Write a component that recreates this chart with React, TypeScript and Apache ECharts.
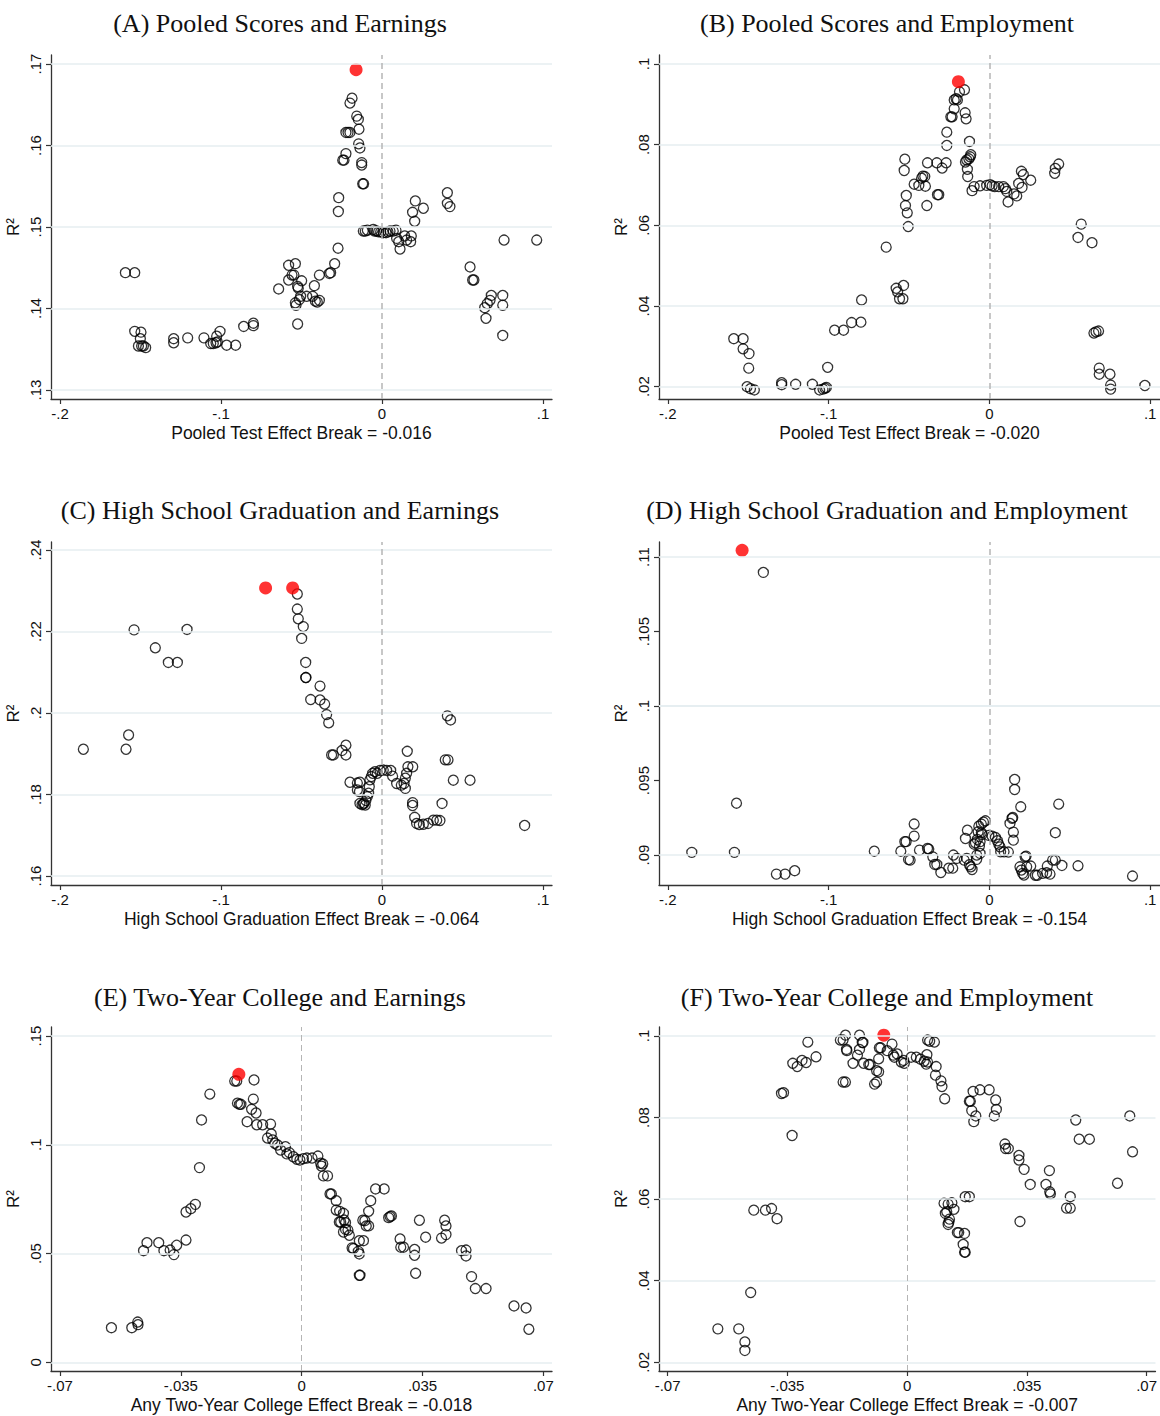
import React, { useEffect, useRef } from "react";
import * as echarts from "echarts";

// ---------- tick labels ----------
const xTicksWide = ["-.2", "-.1", "0", ".1"];
const xTicksCollege = ["-.07", "-.035", "0", ".035", ".07"];
const yTicksA = [".13", ".14", ".15", ".16", ".17"];
const yTicksB = [".02", ".04", ".06", ".08", ".1"];
const yTicksC = [".16", ".18", ".2", ".22", ".24"];
const yTicksD = [".09", ".095", ".1", ".105", ".11"];
const yTicksE = ["0", ".05", ".1", ".15"];
const yTicksF = [".02", ".04", ".06", ".08", ".1"];

// ---------- titles ----------
const titles = [
  "(A) Pooled Scores and Earnings",
  "(B) Pooled Scores and Employment",
  "(C) High School Graduation and Earnings",
  "(D) High School Graduation and Employment",
  "(E) Two-Year College and Earnings",
  "(F) Two-Year College and Employment",
];
const xNames = [
  "Pooled Test Effect Break = -0.016",
  "Pooled Test Effect Break = -0.020",
  "High School Graduation Effect Break = -0.064",
  "High School Graduation Effect Break = -0.154",
  "Any Two-Year College Effect Break = -0.018",
  "Any Two-Year College Effect Break = -0.007",
];

// ---------- data (break value, R²) ----------
const ptsA = [
  [-0.1594, 0.1444], [-0.1536, 0.1444], [-0.1536, 0.1372], [-0.1497, 0.1371], [-0.1501, 0.1363],
  [-0.1513, 0.1354], [-0.1493, 0.1354], [-0.1482, 0.1354], [-0.1468, 0.1352],
  [-0.1294, 0.1363], [-0.1294, 0.1358], [-0.1207, 0.1364], [-0.1106, 0.1364], [-0.1064, 0.1357],
  [-0.1048, 0.1357], [-0.1031, 0.1358], [-0.1023, 0.1359], [-0.1027, 0.1366], [-0.1006, 0.1372],
  [-0.0965, 0.1355], [-0.0909, 0.1355], [-0.0859, 0.1378], [-0.0799, 0.1382], [-0.0799, 0.1379],
  [-0.0642, 0.1424], [-0.058, 0.1453], [-0.0538, 0.1455], [-0.058, 0.1435], [-0.0559, 0.1441],
  [-0.0547, 0.1441], [-0.0524, 0.1427], [-0.0538, 0.1407], [-0.0534, 0.1404], [-0.0524, 0.1381],
  [-0.0186, 0.1658], [-0.0199, 0.1652], [-0.0157, 0.1636], [-0.0147, 0.1632], [-0.0143, 0.162],
  [-0.0224, 0.1616], [-0.0211, 0.1616], [-0.0199, 0.1616], [-0.0145, 0.1602], [-0.0137, 0.1597],
  [-0.0224, 0.159], [-0.0244, 0.1582], [-0.0236, 0.1582], [-0.0126, 0.1579], [-0.0126, 0.1576],
  [-0.012, 0.1553], [-0.0114, 0.1553], [-0.0269, 0.1536], [-0.0271, 0.1519], [-0.0273, 0.1474],
  [-0.0294, 0.1455], [-0.0327, 0.1443], [-0.0319, 0.1444], [-0.0389, 0.1441], [-0.042, 0.1428],
  [-0.0431, 0.1415], [-0.0414, 0.1409], [-0.0402, 0.1408], [-0.0389, 0.141], [-0.0468, 0.1415],
  [-0.0505, 0.1415], [-0.0513, 0.1411], [-0.0499, 0.1434], [-0.052, 0.1425],
  [-0.0116, 0.1495], [-0.0104, 0.1495], [-0.0091, 0.1496], [-0.0054, 0.1497], [-0.0046, 0.1495],
  [-0.0033, 0.1495], [-0.0021, 0.1494], [-0.0008, 0.1494], [0.0008, 0.1493], [0.0025, 0.1493],
  [0.0037, 0.1494], [0.005, 0.1495], [0.007, 0.1495], [0.0087, 0.1496], [0.0091, 0.1486],
  [0.0104, 0.1482], [0.0112, 0.1473], [0.0141, 0.1489], [0.0153, 0.1484], [0.0178, 0.1482],
  [0.0182, 0.1489], [0.0203, 0.1507], [0.019, 0.1518], [0.0207, 0.1532], [0.0257, 0.1523],
  [0.0406, 0.1542], [0.0406, 0.1529], [0.0422, 0.1525], [0.0547, 0.1451], [0.0563, 0.1435],
  [0.0571, 0.1435], [0.0679, 0.1416], [0.0671, 0.141], [0.0654, 0.1406], [0.0638, 0.1401],
  [0.0646, 0.1388], [0.075, 0.1416], [0.075, 0.1404], [0.075, 0.1367], [0.0758, 0.1484],
  [0.0961, 0.1484],
];
const redA = [[-0.0161, 0.1693]];

const ptsB = [
  [-0.159, 0.0319], [-0.1532, 0.0319], [-0.1532, 0.0294], [-0.1495, 0.0282], [-0.1497, 0.0246],
  [-0.1507, 0.02], [-0.1486, 0.0195], [-0.1462, 0.0192], [-0.1292, 0.021], [-0.1292, 0.0205],
  [-0.1205, 0.0206], [-0.1101, 0.0206], [-0.1056, 0.0192], [-0.1035, 0.0194], [-0.1023, 0.0196],
  [-0.1014, 0.0198], [-0.1006, 0.0248], [-0.0963, 0.034], [-0.0907, 0.034], [-0.0857, 0.0359],
  [-0.0799, 0.036], [-0.0795, 0.0415], [-0.0642, 0.0546], [-0.0534, 0.0451], [-0.058, 0.0444],
  [-0.0571, 0.0435], [-0.0559, 0.0418], [-0.0538, 0.0418], [-0.0526, 0.0764], [-0.053, 0.0736],
  [-0.0517, 0.0674], [-0.0522, 0.0649], [-0.0511, 0.0631], [-0.0505, 0.0597],
  [-0.0155, 0.0936], [-0.0186, 0.0931], [-0.0207, 0.0914], [-0.0219, 0.0911], [-0.0199, 0.0911],
  [-0.0219, 0.0889], [-0.0232, 0.0869], [-0.024, 0.0869], [-0.0151, 0.0879], [-0.0145, 0.0864],
  [-0.0265, 0.0831], [-0.0265, 0.0798], [-0.0124, 0.0808], [-0.0116, 0.0775], [-0.012, 0.077],
  [-0.0128, 0.0765], [-0.0141, 0.0762], [-0.0149, 0.0757], [-0.0137, 0.0739], [-0.0135, 0.0721],
  [-0.0385, 0.0755], [-0.0327, 0.0755], [-0.0269, 0.0755], [-0.0294, 0.0742], [-0.0414, 0.0722],
  [-0.0402, 0.0721], [-0.0422, 0.0717], [-0.0439, 0.0699], [-0.0468, 0.0702], [-0.0398, 0.0697],
  [-0.0389, 0.0649], [-0.0323, 0.0676], [-0.0315, 0.0676],
  [-0.0108, 0.0686], [-0.0095, 0.0696], [-0.0058, 0.0698], [-0.0017, 0.0699], [0.0004, 0.0701],
  [0.0017, 0.0698], [0.0033, 0.0696], [0.0058, 0.0696], [0.0087, 0.0696], [0.0099, 0.0691],
  [0.0108, 0.0684], [0.0116, 0.0658], [0.0153, 0.0678], [0.017, 0.0673], [0.0182, 0.0704],
  [0.0203, 0.0694], [0.0199, 0.0734], [0.0211, 0.0726], [0.0257, 0.0712], [0.0406, 0.0729],
  [0.041, 0.0741], [0.0431, 0.0752], [0.0571, 0.0603], [0.0551, 0.057], [0.0638, 0.0557],
  [0.065, 0.0333], [0.0679, 0.0338], [0.0663, 0.0336], [0.0683, 0.0246], [0.0683, 0.0231],
  [0.075, 0.0231], [0.0754, 0.0204], [0.0754, 0.0194], [0.0967, 0.0203],
];
const redB = [[-0.0193, 0.0956]];

const ptsC = [
  [-0.1855, 0.1911], [-0.159, 0.1911], [-0.1574, 0.1946], [-0.154, 0.2204], [-0.1408, 0.216],
  [-0.1327, 0.2124], [-0.1271, 0.2124], [-0.1211, 0.2205],
  [-0.0526, 0.2292], [-0.0526, 0.2255], [-0.052, 0.2231], [-0.0489, 0.2212], [-0.0499, 0.2183],
  [-0.0474, 0.2124], [-0.0474, 0.2087], [-0.0472, 0.2087], [-0.0385, 0.2066], [-0.0443, 0.2033],
  [-0.0385, 0.2032], [-0.0356, 0.2022], [-0.0344, 0.1996], [-0.0331, 0.1976], [-0.0313, 0.1897],
  [-0.0302, 0.1897], [-0.0248, 0.1908], [-0.0224, 0.1921], [-0.0224, 0.1897], [-0.0199, 0.183],
  [-0.0153, 0.1828], [-0.0137, 0.183], [-0.0153, 0.1811], [-0.014, 0.1807], [-0.0137, 0.1778],
  [-0.0124, 0.1775], [-0.0116, 0.1777], [-0.0112, 0.1779], [-0.0104, 0.1774], [-0.01, 0.1785],
  [-0.0091, 0.1795], [-0.0083, 0.1803], [-0.0079, 0.1819], [-0.0075, 0.1836], [-0.0066, 0.1844],
  [-0.0058, 0.1852], [-0.0043, 0.1856], [-0.0029, 0.1852], [-0.0012, 0.1859], [0.0008, 0.186],
  [0.0029, 0.1859], [0.0054, 0.1859], [0.0066, 0.1845], [0.0091, 0.1827], [0.012, 0.1823],
  [0.0137, 0.1827], [0.0145, 0.184], [0.0153, 0.1852], [0.0145, 0.1815], [0.0161, 0.1868],
  [0.0191, 0.1868], [0.0157, 0.1906], [0.019, 0.178], [0.019, 0.1773], [0.0203, 0.1744],
  [0.0215, 0.1729], [0.0232, 0.1726], [0.0257, 0.1727], [0.0286, 0.1729], [0.0319, 0.1737],
  [0.034, 0.1737], [0.036, 0.1736], [0.0373, 0.1778], [0.0393, 0.1885], [0.041, 0.1885],
  [0.0406, 0.1993], [0.0426, 0.1983], [0.0443, 0.1835], [0.0547, 0.1835], [0.0886, 0.1724],
];
const redC = [[-0.0723, 0.2307], [-0.0555, 0.2307]];

const ptsD = [
  [-0.1406, 0.10897], [-0.1573, 0.09348], [-0.1851, 0.09018], [-0.1586, 0.09018], [-0.1325, 0.08872],
  [-0.1271, 0.08872], [-0.1211, 0.08895], [-0.0716, 0.09026], [-0.0551, 0.09026], [-0.0526, 0.0909],
  [-0.0518, 0.0909], [-0.0503, 0.0897], [-0.0493, 0.08966], [-0.0468, 0.09208], [-0.0468, 0.09127],
  [-0.0435, 0.09033], [-0.0385, 0.09044], [-0.0377, 0.0904], [-0.0352, 0.08988], [-0.034, 0.08937],
  [-0.0327, 0.08937], [-0.0302, 0.08883], [-0.0253, 0.08912], [-0.0228, 0.08912], [-0.0224, 0.09],
  [-0.0203, 0.08977], [-0.0157, 0.08966], [-0.0141, 0.08977], [-0.0124, 0.08935], [-0.0116, 0.08921],
  [-0.0108, 0.08903], [-0.0149, 0.09111], [-0.0137, 0.09167], [-0.0095, 0.09073], [-0.0087, 0.09082],
  [-0.0075, 0.09105], [-0.007, 0.09156], [-0.0066, 0.09194], [-0.0058, 0.09011], [-0.0079, 0.09],
  [-0.0079, 0.08971], [-0.0062, 0.0906], [-0.0058, 0.0909], [-0.005, 0.09208], [-0.0037, 0.09221],
  [-0.0025, 0.0923], [-0.005, 0.0915], [-0.0046, 0.09138], [-0.0004, 0.09132], [0.0017, 0.09127],
  [0.0037, 0.09118], [0.005, 0.09096], [0.0058, 0.09073], [0.0066, 0.09055], [0.007, 0.09022],
  [0.0091, 0.09022], [0.0118, 0.0902], [0.0128, 0.09212], [0.0141, 0.09246], [0.0145, 0.09252],
  [0.0149, 0.09154], [0.0149, 0.091], [0.0157, 0.09507], [0.0157, 0.0944], [0.0195, 0.09324],
  [0.0222, 0.08988], [0.0228, 0.08993], [0.019, 0.08921], [0.0199, 0.08899], [0.0207, 0.08877],
  [0.0215, 0.08866], [0.0232, 0.08921], [0.0257, 0.08926], [0.0286, 0.08864], [0.0298, 0.08864],
  [0.0331, 0.08877], [0.0356, 0.08881], [0.0377, 0.08872], [0.036, 0.08926], [0.0393, 0.08966],
  [0.041, 0.08966], [0.0451, 0.0893], [0.041, 0.0915], [0.0431, 0.09342], [0.0551, 0.08928],
  [0.089, 0.08859],
];
const redD = [[-0.1538, 0.11045]];

const ptsE = [
  [-0.0551, 0.0159], [-0.0492, 0.0159], [-0.0475, 0.0185], [-0.0474, 0.0173], [-0.0458, 0.0513],
  [-0.0448, 0.055], [-0.0414, 0.055], [-0.0399, 0.0513], [-0.0381, 0.0516], [-0.037, 0.0495],
  [-0.0362, 0.0538], [-0.0335, 0.0562], [-0.0335, 0.0691], [-0.0321, 0.0706], [-0.0308, 0.0726],
  [-0.0296, 0.0895], [-0.029, 0.1114], [-0.0266, 0.1233], [-0.0194, 0.1293], [-0.0188, 0.1293],
  [-0.0138, 0.1298], [-0.0186, 0.1191], [-0.018, 0.1186], [-0.0176, 0.1186], [-0.014, 0.121],
  [-0.0145, 0.1163], [-0.0132, 0.1146], [-0.0158, 0.1106], [-0.013, 0.1092], [-0.0113, 0.1092],
  [-0.009, 0.1095], [-0.0099, 0.1031], [-0.0088, 0.105], [-0.0084, 0.1022], [-0.0078, 0.1007],
  [-0.007, 0.0999], [-0.0061, 0.0976], [-0.0047, 0.0991], [-0.0043, 0.0958], [-0.0036, 0.0964],
  [-0.0024, 0.0945], [-0.0014, 0.0933], [-0.0005, 0.093], [0.0005, 0.0936], [0.0015, 0.0939],
  [0.003, 0.0939], [0.0047, 0.0948], [0.0055, 0.0915], [0.0057, 0.0902], [0.0061, 0.0912],
  [0.0063, 0.0857], [0.0075, 0.0857], [0.0082, 0.0774], [0.0086, 0.0774], [0.01, 0.0743],
  [0.01, 0.07], [0.011, 0.0694], [0.0121, 0.0685], [0.0109, 0.0645], [0.0113, 0.0645],
  [0.0123, 0.0654], [0.0127, 0.0642], [0.0121, 0.0599], [0.0127, 0.0611], [0.0134, 0.0608],
  [0.0138, 0.0584], [0.0146, 0.0526], [0.015, 0.0523], [0.0164, 0.051], [0.0167, 0.0498],
  [0.0167, 0.04], [0.0169, 0.04], [0.0167, 0.0559], [0.0179, 0.0559], [0.0177, 0.0653],
  [0.0183, 0.0651], [0.0187, 0.0627], [0.0194, 0.0627], [0.0194, 0.0694], [0.02, 0.0743],
  [0.0214, 0.0797], [0.0239, 0.0797], [0.0252, 0.0665], [0.0256, 0.067], [0.026, 0.0673],
  [0.0285, 0.0567], [0.0287, 0.0529], [0.0295, 0.0529], [0.0327, 0.0519], [0.0327, 0.0492],
  [0.033, 0.0409], [0.0341, 0.0653], [0.0359, 0.0575], [0.0405, 0.0571], [0.0414, 0.0653],
  [0.0418, 0.0627], [0.0418, 0.0587], [0.0463, 0.0513], [0.0476, 0.0516], [0.0476, 0.0489],
  [0.0492, 0.0394], [0.0503, 0.0339], [0.0534, 0.0339], [0.0615, 0.0259], [0.065, 0.025],
  [0.0658, 0.0152],
];
const redE = [[-0.0182, 0.1324]];

const ptsF = [
  [-0.0553, 0.0282], [-0.0492, 0.0282], [-0.0474, 0.025], [-0.0474, 0.0229], [-0.0457, 0.0371],
  [-0.0448, 0.0573], [-0.0414, 0.0573], [-0.0396, 0.0577], [-0.038, 0.0552], [-0.0336, 0.0756],
  [-0.0367, 0.0859], [-0.0361, 0.0861], [-0.0334, 0.0933], [-0.0321, 0.0925], [-0.0307, 0.094],
  [-0.0295, 0.0935], [-0.029, 0.0985], [-0.0266, 0.0949], [-0.0195, 0.099], [-0.0187, 0.099],
  [-0.018, 0.1002], [-0.0177, 0.0967], [-0.0176, 0.0964], [-0.0187, 0.0887], [-0.018, 0.0887],
  [-0.0158, 0.0933], [-0.0145, 0.0953], [-0.0139, 0.1002], [-0.0139, 0.0967], [-0.0131, 0.0984],
  [-0.0129, 0.0984], [-0.0127, 0.0933], [-0.0112, 0.093], [-0.0108, 0.093], [-0.0095, 0.0882],
  [-0.0089, 0.0887], [-0.0089, 0.0915], [-0.0083, 0.0912], [-0.0083, 0.0944], [-0.0081, 0.0971],
  [-0.0077, 0.0971], [-0.0058, 0.0964], [-0.0044, 0.098], [-0.004, 0.0953], [-0.0037, 0.0948],
  [-0.0029, 0.0956], [-0.0017, 0.0936], [-0.001, 0.094], [-0.0008, 0.0933], [0.0012, 0.0948],
  [0.0027, 0.0948], [0.0039, 0.0943], [0.005, 0.0938], [0.0058, 0.0954], [0.0056, 0.0931],
  [0.006, 0.0936], [0.006, 0.099], [0.0066, 0.0987], [0.008, 0.0985], [0.0085, 0.0925],
  [0.0083, 0.0904], [0.0099, 0.089], [0.0102, 0.0876], [0.011, 0.0846], [0.0193, 0.0864],
  [0.0213, 0.0868], [0.024, 0.0868], [0.0182, 0.084], [0.0185, 0.084], [0.0189, 0.0817],
  [0.0201, 0.0804], [0.0195, 0.079], [0.0259, 0.0843], [0.0261, 0.082], [0.0255, 0.0804],
  [0.0286, 0.0735], [0.0288, 0.0724], [0.0296, 0.0724], [0.0327, 0.0707], [0.0327, 0.0696],
  [0.0342, 0.0673], [0.036, 0.0636], [0.033, 0.0545], [0.0406, 0.0636], [0.0416, 0.067],
  [0.0417, 0.0618], [0.0419, 0.0613], [0.0466, 0.0578], [0.0477, 0.0578], [0.0477, 0.0606],
  [0.0493, 0.0794], [0.0503, 0.0747], [0.0533, 0.0747], [0.0615, 0.0639], [0.0651, 0.0804],
  [0.0659, 0.0716], [0.0108, 0.059], [0.012, 0.0588], [0.0131, 0.0591], [0.0137, 0.0575],
  [0.0116, 0.0569], [0.0124, 0.0551], [0.0122, 0.0543], [0.012, 0.0538], [0.0147, 0.0518],
  [0.0151, 0.0518], [0.0168, 0.0516], [0.0164, 0.0489], [0.0168, 0.047], [0.017, 0.047],
  [0.017, 0.0606], [0.0182, 0.0606], [0.0112, 0.0565],
];
const redF = [[-0.0068, 0.1002]];

// ---------- layout ----------
const panels = [
  { left: 51, top: 55, w: 501, h: 344, xr: [-0.2056, 0.1056], yr: [0.1289, 0.1711], xt: xTicksWide, yt: yTicksA, pts: ptsA, red: redA, cx: 280, ty: 23, dashW: 1.5 },
  { left: 659, top: 55, w: 501, h: 344, xr: [-0.2055, 0.1061], yr: [0.01695, 0.10223], xt: xTicksWide, yt: yTicksB, pts: ptsB, red: redB, cx: 887, ty: 23, dashW: 1.5 },
  { left: 51, top: 542, w: 501, h: 343, xr: [-0.2056, 0.1056], yr: [0.15779, 0.24196], xt: xTicksWide, yt: yTicksC, pts: ptsC, red: redC, cx: 280, ty: 510, dashW: 1.5 },
  { left: 659, top: 542, w: 501, h: 343, xr: [-0.2055, 0.1061], yr: [0.08799, 0.11101], xt: xTicksWide, yt: yTicksD, pts: ptsD, red: redD, cx: 887, ty: 510, dashW: 1.5 },
  { left: 51, top: 1027, w: 501, h: 344, xr: [-0.0726, 0.0725], yr: [-0.004, 0.15414], xt: xTicksCollege, yt: yTicksE, pts: ptsE, red: redE, cx: 280, ty: 997, dashW: 1 },
  { left: 659, top: 1027, w: 501, h: 344, xr: [-0.0725, 0.0726], yr: [0.01787, 0.1022], xt: xTicksCollege, yt: yTicksF, pts: ptsF, red: redF, cx: 887, ty: 997, dashW: 1 },
];

const SANS = "'Liberation Sans', Arial, Helvetica, sans-serif";
const SERIF = "'Liberation Serif', 'Times New Roman', serif";

const fmt = (labels: string[]) => (v: number) =>
  labels.find((l) => Math.abs(Number(l) - v) < 1e-9) ?? "";

function buildOption() {
  const axisLine = { show: true, onZero: false, lineStyle: { color: "#333", width: 1.3 } };
  const axisTick = (labels: string[]) => ({
    show: true,
    inside: false,
    length: 5,
    customValues: labels.map(Number),
    lineStyle: { color: "#333", width: 1.2 },
  });
  return {
    animation: false,
    backgroundColor: "#ffffff",
    grid: panels.map((p) => ({ left: p.left, top: p.top, width: p.w, height: p.h, containLabel: false })),
    xAxis: panels.map((p, i) => ({
      type: "value",
      gridIndex: i,
      min: p.xr[0],
      max: p.xr[1],
      axisLine,
      axisTick: axisTick(p.xt),
      axisLabel: {
        customValues: p.xt.map(Number),
        formatter: fmt(p.xt),
        color: "#111",
        fontFamily: SANS,
        fontSize: 15,
        margin: 7,
        showMinLabel: true,
        showMaxLabel: true,
      },
      splitLine: { show: false },
      name: xNames[i],
      nameLocation: "middle",
      nameGap: 25,
      nameTextStyle: { color: "#111", fontFamily: SANS, fontSize: 17.5 },
    })),
    yAxis: panels.map((p, i) => ({
      type: "value",
      gridIndex: i,
      min: p.yr[0],
      max: p.yr[1],
      axisLine,
      axisTick: axisTick(p.yt),
      axisLabel: {
        customValues: p.yt.map(Number),
        formatter: fmt(p.yt),
        rotate: 90,
        color: "#111",
        fontFamily: SANS,
        fontSize: 15,
        margin: 8,
        showMinLabel: true,
        showMaxLabel: true,
      },
      splitLine: { show: false },
      name: "R²",
      nameLocation: "middle",
      nameRotate: 90,
      nameGap: 29,
      nameTextStyle: { color: "#111", fontFamily: SANS, fontSize: 17 },
    })),
    graphic: panels.map((p, i) => ({
      type: "text",
      x: p.cx,
      y: p.ty,
      style: {
        text: titles[i],
        font: `26px ${SERIF}`,
        fill: "#111",
        textAlign: "center",
        textVerticalAlign: "middle",
      },
    })),
    series: panels.flatMap((p, i) => [
      {
        type: "scatter",
        xAxisIndex: i,
        yAxisIndex: i,
        z: 2,
        symbol: "circle",
        symbolSize: 10,
        data: p.pts,
        itemStyle: { color: "rgba(0,0,0,0)", borderColor: "#000", borderWidth: 1.3 },
        emphasis: { disabled: true },
        markLine: {
          silent: true,
          symbol: "none",
          label: { show: false },
          animation: false,
          data: [
            ...p.yt.map((t) => ({ yAxis: Number(t), lineStyle: { color: "#e6eef0", width: 1.5, type: "solid" } })),
            { xAxis: 0, lineStyle: { color: "#b5b5b5", width: p.dashW, type: [6, 4] } },
          ],
        },
      },
      {
        type: "scatter",
        xAxisIndex: i,
        yAxisIndex: i,
        z: 3,
        symbol: "circle",
        symbolSize: 13,
        data: p.red,
        itemStyle: { color: "#ff0000", borderWidth: 0 },
        emphasis: { disabled: true },
      },
    ]),
  };
}

export default function App() {
  const ref = useRef<HTMLDivElement>(null);
  useEffect(() => {
    if (!ref.current) return;
    const chart = echarts.init(ref.current, null, { renderer: "svg" });
    chart.setOption(buildOption() as any);
    return () => chart.dispose();
  }, []);
  return (
    <div
      ref={ref}
      style={{ position: "absolute", left: 0, top: 0, width: 1160, height: 1416, background: "#fff" }}
    />
  );
}
